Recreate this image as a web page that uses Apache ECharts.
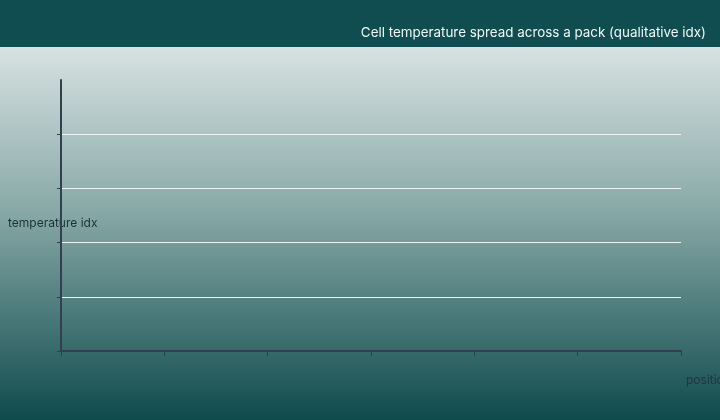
<!DOCTYPE html>
<html>
<head>
<meta charset="utf-8">
<script src="https://cdn.jsdelivr.net/npm/echarts@6/dist/echarts.min.js"></script>
<style>
  html, body { margin: 0; padding: 0; }
  #chart { width: 720px; height: 420px; }
</style>
</head>
<body>
<div id="chart"></div>
<script>
// cell positions along the pack (labels are not shown on the axis)
var positions = ['P1', 'P2', 'P3', 'P4', 'P5', 'P6'];
// qualitative temperature index range
var yMin = 0;
var yMax = 5;
var yTicks = [0, 1, 2, 3, 4];
// no readings plotted in the reference
var tempIdx = [];

var myChart = echarts.init(document.getElementById('chart'));
var option = {
    backgroundColor: {
        type: 'linear', x: 0, y: 0, x2: 0, y2: 1,
        colorStops: [
            { offset: 0, color: '#eef3f2' },
            { offset: 0.5, color: '#88a9a7' },
            { offset: 1, color: '#0f4a4c' }
        ]
    },
    textStyle: { fontFamily: 'Inter' },
    graphic: [{
        type: 'rect',
        left: 0, top: 0, z: 0,
        shape: { width: 720, height: 47 },
        style: { fill: '#0f4d50' }
    }],
    title: {
        text: 'Cell temperature spread across a pack (qualitative idx)',
        right: 9,
        top: 21,
        textStyle: { color: '#f2f6f6', fontSize: 13.4, fontWeight: 'normal', fontFamily: 'Inter' }
    },
    grid: { left: 61, right: 39, top: 80, bottom: 69, outerBoundsMode: 'none', containLabel: false },
    xAxis: {
        type: 'category',
        data: positions,
        name: 'position',
        nameLocation: 'end',
        nameGap: 5,
        nameTextStyle: { color: '#243442', fontSize: 12, verticalAlign: 'top', padding: [23, 0, 0, 0] },
        axisLine: { lineStyle: { color: '#333f50', width: 2 } },
        axisTick: { show: true, length: 5, lineStyle: { color: '#333f50', width: 1 } },
        axisLabel: { show: false },
        splitLine: { show: false }
    },
    yAxis: {
        type: 'value',
        min: yMin,
        max: yMax,
        interval: 1,
        name: 'temperature idx',
        nameLocation: 'middle',
        nameRotate: 0,
        nameGap: 53,
        nameTextStyle: { color: '#1d3238', fontSize: 12, align: 'left', verticalAlign: 'top', padding: [2, 0, 0, 0] },
        axisLine: { show: true, lineStyle: { color: '#333f50', width: 2 } },
        axisTick: { show: true, length: 4, customValues: yTicks, lineStyle: { color: '#333f50', width: 1 } },
        axisLabel: { show: false },
        splitLine: { show: true, lineStyle: { color: '#eef3f3', width: 1 } }
    },
    series: [{
        name: 'temperature idx',
        type: 'line',
        data: tempIdx
    }]
};
myChart.setOption(option);
</script>
</body>
</html>
